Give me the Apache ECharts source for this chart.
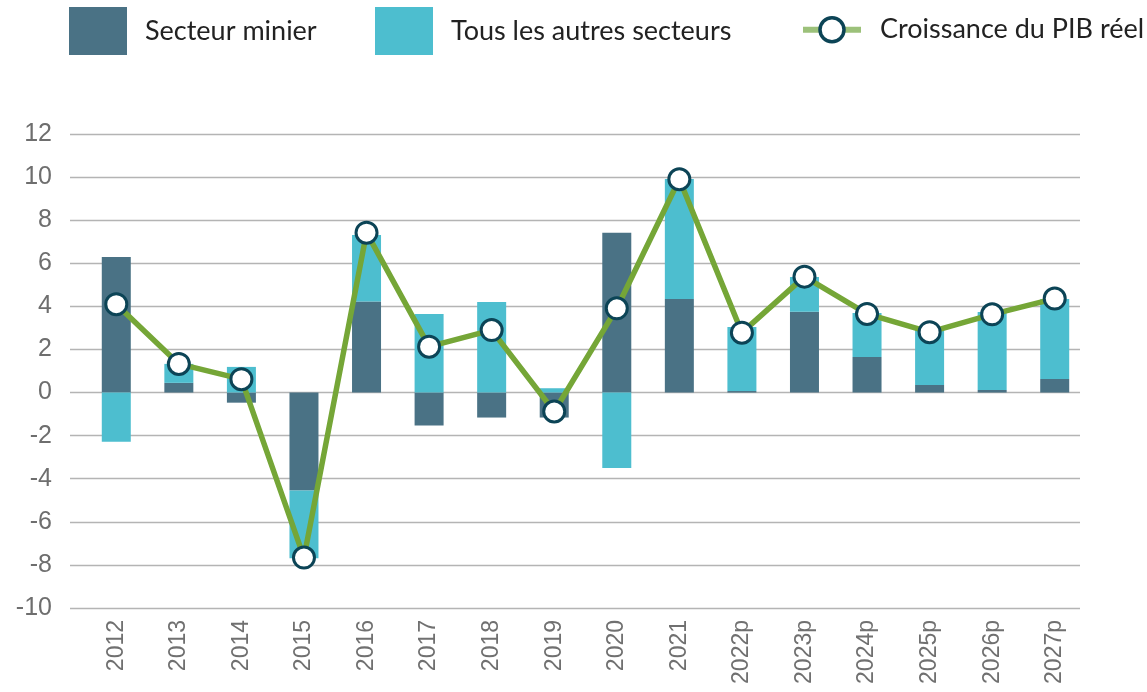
<!DOCTYPE html>
<html><head><meta charset="utf-8">
<script src="https://cdn.jsdelivr.net/npm/echarts@6/dist/echarts.min.js"></script>
<style>html,body{margin:0;padding:0;background:#fff}#c{width:1147px;height:692px}</style>
</head><body><div id="c"></div>
<script>
const categories = ['2012','2013','2014','2015','2016','2017','2018','2019','2020','2021','2022p','2023p','2024p','2025p','2026p','2027p'];
const mining = [6.29, 0.45, -0.47, -4.55, 4.22, -1.53, -1.16, -1.16, 7.42, 4.34, 0.07, 3.75, 1.65, 0.35, 0.12, 0.63];
const others = [-2.28, 0.88, 1.19, -3.14, 3.09, 3.65, 4.2, 0.2, -3.5, 5.57, 2.97, 1.61, 2.04, 2.55, 3.62, 3.71];
const gdp = [4.1, 1.33, 0.62, -7.66, 7.42, 2.13, 2.9, -0.88, 3.91, 9.9, 2.78, 5.38, 3.65, 2.8, 3.63, 4.36];
const yTicks = { min: -10, max: 12, interval: 2 };
const names = ['Secteur minier', 'Tous les autres secteurs', 'Croissance du PIB réel'];

const legendFont = 'Lato, "Open Sans", sans-serif';
const axisFont = '"Liberation Sans", Arial, sans-serif';
const yFont = '"Liberation Sans", Arial, sans-serif';
const chart = echarts.init(document.getElementById('c'), null, { renderer: 'canvas' });
const legText = { fontSize: 27, color: '#222', fontFamily: legendFont };
chart.setOption({
  animation: false,
  legend: [
    { data: [{ name: names[0], icon: 'rect' }], left: 69, top: 7, padding: 0, itemWidth: 58, itemHeight: 48, itemGap: 0,
      textStyle: Object.assign({ padding: [0, 0, 0, 13] }, legText) },
    { data: [{ name: names[1], icon: 'rect' }], left: 375, top: 7, padding: 0, itemWidth: 58, itemHeight: 48, itemGap: 0,
      textStyle: Object.assign({ padding: [0, 0, 0, 13] }, legText) },
    { data: [names[2]], left: 800, top: 16, padding: 0, itemWidth: 58, itemHeight: 30, itemGap: 0,
      lineStyle: { width: 6, color: '#9cc17a' },
      itemStyle: { color: '#ffffff', borderColor: '#0c4456', borderWidth: 3.5 },
      textStyle: Object.assign({ padding: [0, 0, 0, 14] }, legText) }
  ],
  grid: [
    { left: 70, right: 67, top: 134, bottom: 84 },
    { left: 85, right: 61, top: 134, bottom: 84 }
  ],
  xAxis: [
    { type: 'category', gridIndex: 0, data: categories, show: false },
    { type: 'category', gridIndex: 1, data: categories,
      axisLine: { show: false }, axisTick: { show: false },
      axisLabel: { rotate: 90, fontSize: 23, color: '#707070', margin: 12, fontFamily: axisFont } }
  ],
  yAxis: [
    { type: 'value', gridIndex: 0, min: yTicks.min, max: yTicks.max, interval: yTicks.interval,
      axisLine: { show: false }, axisTick: { show: false },
      axisLabel: { fontSize: 25, color: '#6e6e6e', margin: 18, fontFamily: yFont },
      splitLine: { lineStyle: { color: '#b4b4b4', width: 1.3 } } },
    { type: 'value', gridIndex: 1, min: yTicks.min, max: yTicks.max, interval: yTicks.interval,
      show: false, splitLine: { show: false } }
  ],
  series: [
    { name: names[0], type: 'bar', xAxisIndex: 1, yAxisIndex: 1, stack: 'total', data: mining,
      barWidth: 29, itemStyle: { color: '#4a7285' } },
    { name: names[1], type: 'bar', xAxisIndex: 1, yAxisIndex: 1, stack: 'total', data: others,
      barWidth: 29, itemStyle: { color: '#4dbecf' } },
    { name: names[2], type: 'line', xAxisIndex: 1, yAxisIndex: 1, data: gdp,
      lineStyle: { color: '#75a637', width: 5.5 }, itemStyle: { color: '#ffffff', borderColor: '#0c4456', borderWidth: 3 },
      symbol: 'circle', symbolSize: 21, z: 5 }
  ]
});
</script></body></html>
